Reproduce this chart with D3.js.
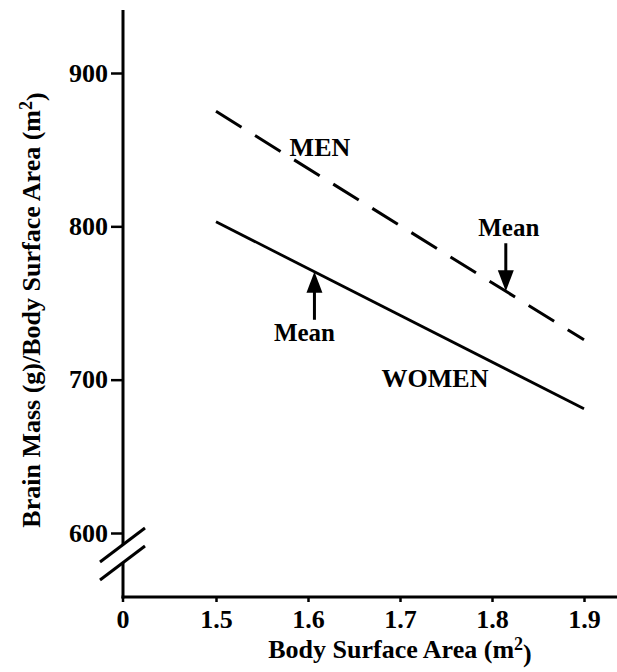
<!DOCTYPE html>
<html>
<head>
<meta charset="utf-8">
<script src="https://cdn.jsdelivr.net/npm/d3@7"></script>
<style>
  body { margin: 0; background: #fff; }
  svg { display: block; }
  text { font-family: "Liberation Serif", "DejaVu Serif", serif; font-weight: bold; fill: #000; }
</style>
</head>
<body>
<div class="chart"></div>
<script>
// data
var sizes = [1.5, 1.9];              // body surface area (m2), ends of the lines
var menValues = [875, 726];          // brain mass / BSA, men
var womenValues = [803, 681];        // brain mass / BSA, women
var meanSizes = [1.815, 1.607];      // mean BSA: men, women
var xTicks = [1.5, 1.6, 1.7, 1.8, 1.9];
var yTicks = [600, 700, 800, 900];
var seriesNames = ["MEN", "WOMEN"];
var namePos = [[1.58, 846], [1.68, 695]];   // where the series names sit (data units)

var svgWidth = 617;
var svgHeight = 672;

var axisX = 123;      // vertical axis position
var axisBottom = 597; // horizontal axis position

var svg = d3.select(".chart")
    .append("svg")
    .attr("width", svgWidth)
    .attr("height", svgHeight);

var xScale = d3.scaleLinear().domain([1.5, 1.9]).range([216, 584]);
var yScale = d3.scaleLinear().domain([600, 900]).range([533, 73]);

// y axis with ticks to the left
var yAxis = svg.append("g")
    .attr("transform", `translate(${axisX}, 0)`)
    .call(d3.axisLeft(yScale).tickValues(yTicks).tickSize(12).tickPadding(3).tickFormat(d3.format("d")));
yAxis.select(".domain").remove();
yAxis.selectAll(".tick line").attr("stroke", "#000").attr("stroke-width", 2.5);
yAxis.selectAll(".tick text").style("font-size", "26px");

// x axis with short ticks below
var xAxis = svg.append("g")
    .attr("transform", `translate(0, ${axisBottom})`)
    .call(d3.axisBottom(xScale).tickValues(xTicks).tickSize(5).tickPadding(8).tickFormat(d3.format(".1f")));
xAxis.select(".domain").remove();
xAxis.selectAll(".tick line").attr("stroke", "#000").attr("stroke-width", 2.5);
xAxis.selectAll(".tick text").style("font-size", "26px");

// the "0" at the origin
xAxis.append("line")
    .attr("x1", axisX).attr("x2", axisX)
    .attr("y1", 0).attr("y2", 5)
    .attr("stroke", "#000").attr("stroke-width", 2.5);
xAxis.append("text")
    .attr("x", axisX)
    .attr("y", 13)
    .attr("dy", "0.71em")
    .attr("text-anchor", "middle")
    .style("font-size", "26px")
    .text("0");

// axis lines, y axis broken just under 600
var breakTop = 545, breakBottom = 563;
svg.append("line")
    .attr("x1", axisX).attr("x2", axisX)
    .attr("y1", 10).attr("y2", breakTop)
    .attr("stroke", "#000").attr("stroke-width", 3);
svg.append("line")
    .attr("x1", axisX).attr("x2", axisX)
    .attr("y1", breakBottom).attr("y2", axisBottom + 1.5)
    .attr("stroke", "#000").attr("stroke-width", 3);
svg.append("line")
    .attr("x1", axisX - 1.5).attr("x2", svgWidth)
    .attr("y1", axisBottom).attr("y2", axisBottom)
    .attr("stroke", "#000").attr("stroke-width", 3);

[breakTop, breakBottom].forEach(function(by) {
    svg.append("line")
        .attr("x1", axisX - 23).attr("y1", by + 17)
        .attr("x2", axisX + 22).attr("y2", by - 17)
        .attr("stroke", "#000").attr("stroke-width", 3);
});

// the two regression lines
var line = d3.line()
    .x(d => xScale(d[0]))
    .y(d => yScale(d[1]));

svg.append("path")
    .datum(sizes.map((s, i) => [s, menValues[i]]))
    .attr("d", line)
    .attr("fill", "none")
    .attr("stroke", "#000")
    .attr("stroke-width", 3)
    .attr("stroke-dasharray", "30,16");

svg.append("path")
    .datum(sizes.map((s, i) => [s, womenValues[i]]))
    .attr("d", line)
    .attr("fill", "none")
    .attr("stroke", "#000")
    .attr("stroke-width", 2.8);

// series names
svg.selectAll(".seriesName")
    .data(seriesNames)
    .enter()
    .append("text")
    .attr("class", "seriesName")
    .attr("x", (d, i) => xScale(namePos[i][0]))
    .attr("y", (d, i) => yScale(namePos[i][1]))
    .style("font-size", "26px")
    .text(d => d);

// mean arrows: men from above, women from below
var menAt = d3.scaleLinear().domain(sizes).range(menValues);
var womenAt = d3.scaleLinear().domain(sizes).range(womenValues);
var arrows = [
    { x: meanSizes[0], v: menAt(meanSizes[0]), dir: -1, labelDx: 3, labelDy: -55 },
    { x: meanSizes[1], v: womenAt(meanSizes[1]), dir: 1, labelDx: -10, labelDy: 69 }
];

arrows.forEach(function(a) {
    var tx = xScale(a.x), ty = yScale(a.v);
    svg.append("line")
        .attr("x1", tx).attr("x2", tx)
        .attr("y1", ty + a.dir * 14).attr("y2", ty + a.dir * 48)
        .attr("stroke", "#000").attr("stroke-width", 3);
    svg.append("path")
        .attr("d", `M${tx},${ty} L${tx - 8},${ty + a.dir * 21} L${tx + 8},${ty + a.dir * 21} Z`)
        .attr("fill", "#000");
    svg.append("text")
        .attr("x", tx + a.labelDx)
        .attr("y", ty + a.labelDy)
        .attr("text-anchor", "middle")
        .style("font-size", "25px")
        .text("Mean");
});

// axis titles
var xTitle = svg.append("text")
    .attr("x", 400)
    .attr("y", 658)
    .attr("text-anchor", "middle")
    .style("font-size", "26px");
xTitle.append("tspan").text("Body Surface Area (m");
xTitle.append("tspan").attr("dy", "-0.45em").style("font-size", "18px").text("2");
xTitle.append("tspan").attr("dy", "0.45em").text(")");

var yTitle = svg.append("text")
    .attr("transform", "translate(40, 310) rotate(-90)")
    .attr("text-anchor", "middle")
    .style("font-size", "26px");
yTitle.append("tspan").text("Brain Mass (g)/Body Surface Area (m");
yTitle.append("tspan").attr("dy", "-0.45em").style("font-size", "18px").text("2");
yTitle.append("tspan").attr("dy", "0.45em").text(")");
</script>
</body>
</html>
